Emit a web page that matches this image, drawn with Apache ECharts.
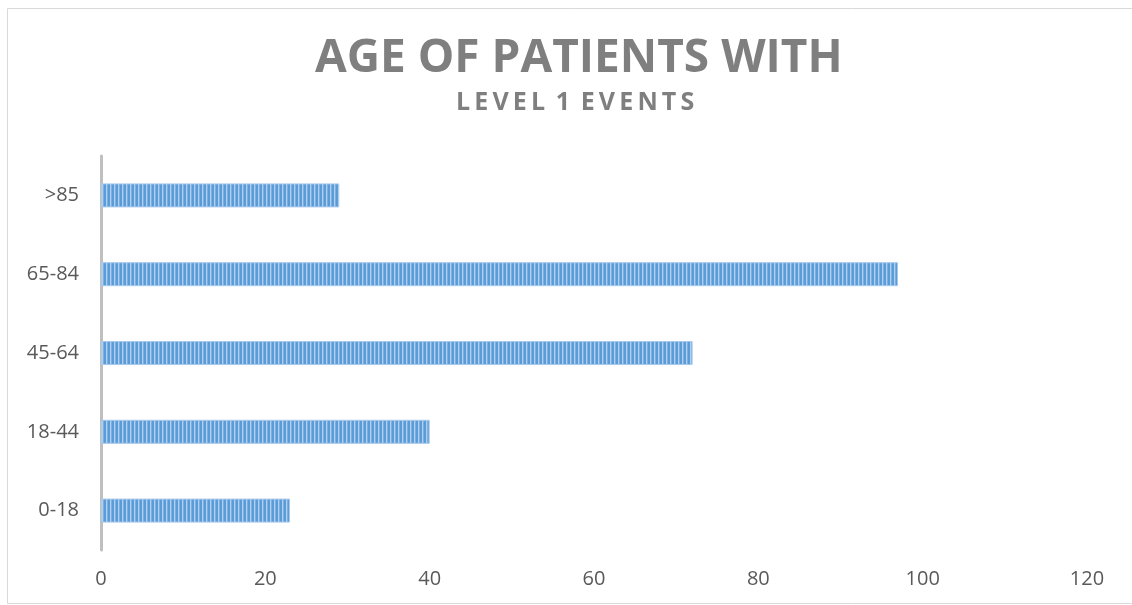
<!DOCTYPE html>
<html>
<head>
<meta charset="utf-8">
<script src="https://cdn.jsdelivr.net/npm/echarts@6/dist/echarts.min.js"></script>
<style>html,body{margin:0;padding:0;background:#fff;}#c{width:1132px;height:605px;}</style>
</head>
<body>
<div id="c"></div>
<script>
const categories = ['0-18', '18-44', '45-64', '65-84', '>85'];
const values = [23, 40, 72, 97, 29];
const xTicks = [0, 20, 40, 60, 80, 100, 120];
const titleText = 'AGE OF PATIENTS WITH';
const subtitleText = 'L\u2009E\u2009V\u2009E\u2009L\u2009 1 \u2009E\u2009V\u2009E\u2009N\u2009T\u2009S';

function stripes() {
  const c = document.createElement('canvas');
  c.width = 4; c.height = 4;
  const g = c.getContext('2d');
  const cols = ['#5B9BD5', '#5E9DD7', '#AFCFEE', '#7DB0E2'];
  cols.forEach((col, i) => { g.fillStyle = col; g.fillRect(i, 0, 1, 4); });
  return c;
}

const chart = echarts.init(document.getElementById('c'));
chart.setOption({
  backgroundColor: '#fff',
  animation: false,
  title: [
    { text: titleText, left: 310, top: 31,
      textStyle: { fontFamily: 'Open Sans', fontWeight: 'bold', fontSize: 46, color: '#7F7F7F' } },
    { text: subtitleText, left: 451, top: 85,
      textStyle: { fontFamily: 'Open Sans', fontWeight: 'bold', fontSize: 25, color: '#7F7F7F' } }
  ],
  graphic: [
    { type: 'rect', shape: { x: 7.5, y: 8.5, width: 1130, height: 595 },
      style: { fill: 'none', stroke: '#D9D9D9', lineWidth: 1 }, silent: true }
  ],
  grid: { left: 101, right: 45, top: 156, bottom: 55, containLabel: false },
  xAxis: {
    type: 'value', min: 0, max: 120, interval: 20,
    axisLine: { show: false }, axisTick: { show: false }, splitLine: { show: false },
    axisLabel: { fontFamily: 'Open Sans', fontSize: 20, color: '#595959', margin: 19,
      formatter: v => xTicks.includes(v) ? String(v) : '' }
  },
  yAxis: {
    type: 'category', data: categories,
    axisLine: { show: true, lineStyle: { color: '#BFBFBF', width: 3 } },
    axisTick: { show: false },
    axisLabel: { fontFamily: 'Open Sans', fontSize: 20, color: '#595959', margin: 22 }
  },
  series: [{
    type: 'bar', data: values, barWidth: 24,
    itemStyle: { color: { image: stripes(), repeat: 'repeat' }, borderColor: '#A6C9EC', borderWidth: 1 }
  }]
});
</script>
</body>
</html>
